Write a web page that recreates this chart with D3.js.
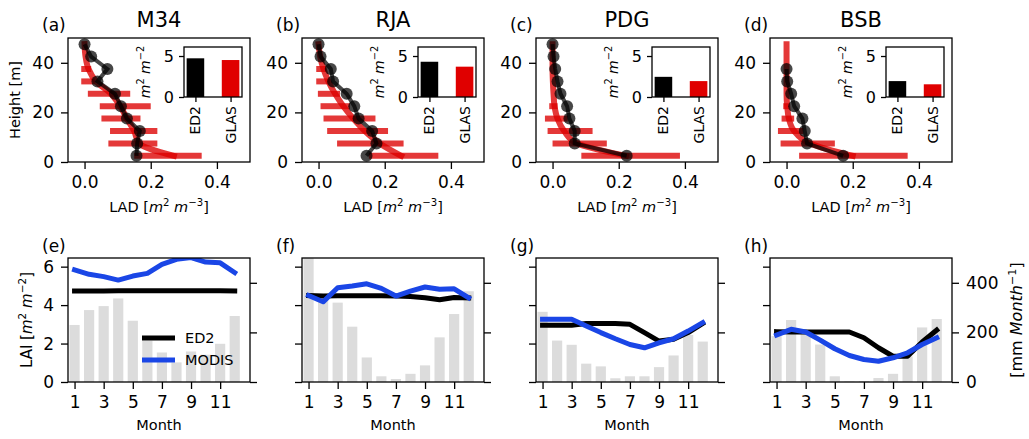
<!DOCTYPE html>
<html>
<head>
<meta charset="utf-8">
<script src="https://cdn.jsdelivr.net/npm/d3@7"></script>
<style>
body { margin: 0; background: #fff; }
svg text { font-family: "DejaVu Sans", sans-serif; fill: #000; white-space: pre; }
</style>
</head>
<body>
<div id="chart-area"></div>
<script>
// layout
const WIDTH = 1029, HEIGHT = 439
const COL_X = [68, 302, 536, 770]
const AX_W = 182, AX_H = 124
const TOP_Y = 38, BOT_Y = 258

// data
const sites = ["M34", "RJA", "PDG", "BSB"]
const topTags = ["(a)", "(b)", "(c)", "(d)"]
const botTags = ["(e)", "(f)", "(g)", "(h)"]

const heights = [2.5, 7.5, 12.5, 17.5, 22.5, 27.5, 32.5, 37.5, 42.5, 47.5]

// ED2 leaf area density, bottom to top
const ed2Lad = [
  [0.157, 0.159, 0.167, 0.128, 0.110, 0.092, 0.039, 0.069, 0.020, 0.000],
  [0.145, 0.175, 0.162, 0.121, 0.108, 0.085, 0.044, 0.037, 0.006, 0.000],
  [0.224, 0.067, 0.067, 0.051, 0.044, 0.024, 0.015, 0.008, 0.003, 0.000],
  [0.171, 0.062, 0.055, 0.048, 0.023, 0.014, 0.002, 0.000, null, null]
]
// GLAS profile curve
const glasLad = [
  [0.270, 0.165, 0.150, 0.128, 0.108, 0.080, 0.035, 0.012, 0.003, 0.000],
  [0.250, 0.185, 0.140, 0.105, 0.075, 0.050, 0.030, 0.015, 0.005, 0.000],
  [0.222, 0.074, 0.035, 0.015, 0.006, 0.003, 0.001, 0.000, 0.000, 0.000],
  [0.200, 0.070, 0.023, 0.007, 0.002, 0.000, 0.000, 0.000, 0.000, 0.000]
]
// GLAS range per layer (lo / hi)
const glasLo = [
  [0.150, 0.072, 0.077, 0.051, 0.046, 0.010, -0.010, -0.010],
  [0.152, 0.056, 0.026, 0.015, 0.006, -0.002, -0.007, -0.007],
  [0.087, 0.000, -0.015, -0.023, -0.010],
  [0.038, -0.018, -0.026, -0.015, -0.010]
]
const glasHi = [
  [0.354, 0.220, 0.220, 0.169, 0.200, 0.138, 0.031, 0.020],
  [0.362, 0.257, 0.210, 0.172, 0.095, 0.065, 0.034, 0.024],
  [0.385, 0.164, 0.121, 0.046, 0.015],
  [0.366, 0.146, 0.051, 0.023, 0.007]
]
// total LAI inset
const insetCats = ["ED2", "GLAS"]
const laiEd2Total = [4.72, 4.30, 2.46, 1.94]
const laiGlasTotal = [4.51, 3.70, 1.94, 1.55]

const months = [1, 2, 3, 4, 5, 6, 7, 8, 9, 10, 11, 12]
const ed2Lai = [
  [4.73, 4.73, 4.73, 4.74, 4.74, 4.74, 4.75, 4.75, 4.75, 4.74, 4.74, 4.73],
  [4.50, 4.47, 4.48, 4.48, 4.48, 4.48, 4.47, 4.45, 4.38, 4.28, 4.40, 4.37],
  [2.95, 2.95, 2.95, 3.04, 3.04, 3.04, 3.00, 2.57, 2.13, 2.22, 2.57, 3.05],
  [2.62, 2.60, 2.60, 2.60, 2.60, 2.60, 2.30, 1.78, 1.34, 1.34, 2.08, 2.70]
]
const modisLai = [
  [5.83, 5.60, 5.48, 5.30, 5.51, 5.65, 6.12, 6.38, 6.47, 6.24, 6.20, 5.69],
  [4.50, 4.17, 4.90, 4.99, 5.11, 4.87, 4.47, 4.73, 4.94, 4.82, 4.85, 4.38],
  [3.26, 3.26, 3.26, 2.91, 2.57, 2.25, 1.95, 1.78, 2.04, 2.25, 2.65, 3.09],
  [2.44, 2.74, 2.60, 2.18, 1.73, 1.38, 1.17, 1.08, 1.26, 1.52, 1.95, 2.30]
]
const precip = [
  [230, 290, 306, 337, 247, 167, 119, 79, 123, 110, 154, 266],
  [520, 340, 320, 223, 99, 23, 12, 33, 67, 180, 274, 366],
  [283, 167, 150, 74, 63, 15, 23, 23, 60, 107, 190, 163],
  [185, 250, 210, 151, 23, 2, 3, 16, 33, 103, 220, 254]
]

const ladTicks = [0, 0.2, 0.4]
const hTicks = [0, 20, 40]
const monthTicks = [1, 3, 5, 7, 9, 11]
const laiTicks = [0, 2, 4, 6]
const prTicks = [0, 200, 400]

const RED = "#dc0000"
const BLUE = "#1a46e6"
const TICK_FS = 17

const svg = d3.select("#chart-area").append("svg")
  .attr("width", WIDTH)
  .attr("height", HEIGHT)
const defs = svg.append("defs")

// text with italic / superscript parts
function rich(sel, parts, fs) {
  let raised = false
  parts.forEach(([t, k]) => {
    const ts = sel.append("tspan").text(t)
    if (k === "s") {
      ts.attr("font-size", fs * 0.7).attr("dy", -fs * 0.4)
      raised = true
    } else {
      if (raised) { ts.attr("dy", fs * 0.4); raised = false }
      if (k === "i") ts.attr("font-style", "italic")
    }
  })
}

function styleAxis(a, fs, noLabels) {
  a.attr("font-family", null).attr("font-size", null)
  a.select(".domain").remove()
  a.selectAll(".tick line").attr("stroke", "#000").attr("stroke-width", 1.3)
  a.selectAll(".tick text").attr("font-size", fs)
  if (noLabels) a.selectAll(".tick text").remove()
}

function frame(g, w, h) {
  g.append("rect").attr("width", w).attr("height", h)
    .attr("fill", "none").attr("stroke", "#000").attr("stroke-width", 1.3)
}

const intFmt = d3.format("d")

function drawProfile(i) {
  const g = svg.append("g").attr("transform", `translate(${COL_X[i]}, ${TOP_Y})`)
  const x = d3.scaleLinear().domain([-0.05, 0.5]).range([0, AX_W])
  const y = d3.scaleLinear().domain([0, 50]).range([AX_H, 0])

  defs.append("clipPath").attr("id", `clipT${i}`)
    .append("rect").attr("width", AX_W).attr("height", AX_H)
  const plot = g.append("g").attr("clip-path", `url(#clipT${i})`)

  // GLAS ranges
  const rng = glasLo[i].map((lo, k) => ({ lo: lo, hi: glasHi[i][k], h: heights[k] }))
  plot.selectAll("line.rng").data(rng).join("line")
    .attr("class", "rng")
    .attr("x1", d => x(d.lo)).attr("x2", d => x(d.hi))
    .attr("y1", d => y(d.h)).attr("y2", d => y(d.h))
    .attr("stroke", RED).attr("stroke-width", 6).attr("stroke-opacity", 0.78)

  // GLAS curve
  const curve = heights.map((h, k) => ({ h: h, v: glasLad[i][k] }))
  plot.append("path").datum(curve)
    .attr("d", d3.line().x(d => x(d.v)).y(d => y(d.h)).curve(d3.curveMonotoneY))
    .attr("fill", "none").attr("stroke", RED).attr("stroke-width", 6)
    .attr("stroke-opacity", 0.78).attr("stroke-linecap", "square")

  // ED2 profile
  const pts = heights.map((h, k) => ({ h: h, v: ed2Lad[i][k] })).filter(d => d.v != null)
  plot.append("path").datum(pts)
    .attr("d", d3.line().x(d => x(d.v)).y(d => y(d.h)))
    .attr("fill", "none").attr("stroke", "#000").attr("stroke-width", 4)
    .attr("stroke-opacity", 0.72)
  plot.selectAll("circle").data(pts).join("circle")
    .attr("cx", d => x(d.v)).attr("cy", d => y(d.h)).attr("r", 6)
    .attr("fill", "#000").attr("fill-opacity", 0.72)

  g.append("g").attr("transform", `translate(0, ${AX_H})`)
    .call(d3.axisBottom(x).tickValues(ladTicks).tickFormat(d3.format(".1f")).tickSize(7).tickPadding(7))
    .call(a => styleAxis(a, TICK_FS))
  g.append("g")
    .call(d3.axisLeft(y).tickValues(hTicks).tickFormat(intFmt).tickSize(7).tickPadding(7))
    .call(a => styleAxis(a, TICK_FS))
  frame(g, AX_W, AX_H)

  // inset of total LAI
  const inL = 116, inT = 9, inW = 58, inH = 50
  const ig = g.append("g").attr("transform", `translate(${inL}, ${inT})`)
  const xi = d3.scaleLinear().domain([-0.325, 1.325]).range([0, inW])
  const yi = d3.scaleLinear().domain([0, 6.1]).range([inH, 0])
  ig.append("rect").attr("width", inW).attr("height", inH).attr("fill", "#fff")
  const vals = [laiEd2Total[i], laiGlasTotal[i]]
  ig.selectAll("rect.bar").data(vals).join("rect")
    .attr("class", "bar")
    .attr("x", (d, k) => xi(k - 0.25)).attr("width", xi(0.25) - xi(-0.25))
    .attr("y", d => yi(d)).attr("height", d => yi(0) - yi(d))
    .attr("fill", (d, k) => k === 0 ? "#000" : "#e00000")
  ig.append("g")
    .call(d3.axisLeft(yi).tickValues([0, 5]).tickFormat(intFmt).tickSize(5).tickPadding(5))
    .call(a => styleAxis(a, 16))
  ig.append("g").attr("transform", `translate(0, ${inH})`)
    .call(d3.axisBottom(xi).tickValues([0, 1]).tickSize(5))
    .call(a => styleAxis(a, 14, true))
  insetCats.forEach((c, k) => {
    ig.append("text")
      .attr("transform", `translate(${xi(k)}, ${inH + 9}) rotate(-90)`)
      .attr("text-anchor", "end").attr("dy", "0.36em")
      .attr("font-size", 14).text(c)
  })
  frame(ig, inW, inH)
  const il = ig.append("text")
    .attr("transform", `translate(${-34}, ${inH / 2}) rotate(-90)`)
    .attr("text-anchor", "middle").attr("font-size", 14)
  rich(il, [["m", "i"], ["2", "s"], [" ", "n"], ["m", "i"], ["\u22122", "s"]], 14)

  // texts
  svg.append("text").attr("x", COL_X[i] + AX_W / 2).attr("y", 27)
    .attr("text-anchor", "middle").attr("font-size", 21).text(sites[i])
  svg.append("text").attr("x", COL_X[i] - 26).attr("y", 31)
    .attr("font-size", 17).text(topTags[i])
  const xl = svg.append("text").attr("x", COL_X[i] + AX_W / 2).attr("y", 212)
    .attr("text-anchor", "middle").attr("font-size", 14.5)
  rich(xl, [["LAD [", "n"], ["m", "i"], ["2", "s"], [" ", "n"], ["m", "i"], ["\u22123", "s"], ["]", "n"]], 14.5)
  if (i === 0) {
    svg.append("text").attr("transform", `translate(20, ${TOP_Y + AX_H / 2}) rotate(-90)`)
      .attr("text-anchor", "middle").attr("font-size", 14.5).text("Height [m]")
  }
}

function drawSeason(i) {
  const g = svg.append("g").attr("transform", `translate(${COL_X[i]}, ${BOT_Y})`)
  const x = d3.scaleLinear().domain([0.55, 13.05]).range([0, AX_W])
  const yL = d3.scaleLinear().domain([0, 6.45]).range([AX_H, 0])
  const yR = d3.scaleLinear().domain([0, 500]).range([AX_H, 0])

  defs.append("clipPath").attr("id", `clipB${i}`)
    .append("rect").attr("width", AX_W).attr("height", AX_H)
  const plot = g.append("g").attr("clip-path", `url(#clipB${i})`)

  plot.selectAll("rect.pr").data(months).join("rect")
    .attr("class", "pr")
    .attr("x", m => x(m - 0.35)).attr("width", x(0.35) - x(-0.35))
    .attr("y", (m, k) => yR(precip[i][k])).attr("height", (m, k) => yR(0) - yR(precip[i][k]))
    .attr("fill", "#dcdcdc")

  const line = d3.line().x((d, k) => x(months[k])).y(d => yL(d))
  plot.append("path").datum(ed2Lai[i]).attr("d", line)
    .attr("fill", "none").attr("stroke", "#000").attr("stroke-width", 5)
    .attr("stroke-linecap", "square").attr("stroke-linejoin", "round")
  plot.append("path").datum(modisLai[i]).attr("d", line)
    .attr("fill", "none").attr("stroke", BLUE).attr("stroke-width", 5)
    .attr("stroke-linecap", "square").attr("stroke-linejoin", "round")

  g.append("g").attr("transform", `translate(0, ${AX_H})`)
    .call(d3.axisBottom(x).tickValues(monthTicks).tickFormat(intFmt).tickSize(7).tickPadding(7))
    .call(a => styleAxis(a, TICK_FS))
  g.append("g")
    .call(d3.axisLeft(yL).tickValues(laiTicks).tickFormat(intFmt).tickSize(7).tickPadding(7))
    .call(a => styleAxis(a, TICK_FS, i !== 0))
  g.append("g").attr("transform", `translate(${AX_W}, 0)`)
    .call(d3.axisRight(yR).tickValues(prTicks).tickFormat(intFmt).tickSize(7).tickPadding(7))
    .call(a => styleAxis(a, TICK_FS, i !== 3))
  frame(g, AX_W, AX_H)

  svg.append("text").attr("x", COL_X[i] - 26).attr("y", 252)
    .attr("font-size", 17).text(botTags[i])
  svg.append("text").attr("x", COL_X[i] + AX_W / 2).attr("y", 430)
    .attr("text-anchor", "middle").attr("font-size", 14.5).text("Month")

  if (i === 0) {
    const yl = svg.append("text")
      .attr("transform", `translate(32, ${BOT_Y + AX_H / 2}) rotate(-90)`)
      .attr("text-anchor", "middle").attr("font-size", 15)
    rich(yl, [["LAI [", "n"], ["m", "i"], ["2", "s"], [" ", "n"], ["m", "i"], ["\u22122", "s"], ["]", "n"]], 15)

    // legend
    const leg = g.append("g").attr("transform", "translate(74, 80)")
    const items = [["ED2", "#000"], ["MODIS", BLUE]]
    items.forEach(([name, col], k) => {
      leg.append("line").attr("x1", 0).attr("x2", 33)
        .attr("y1", k * 22).attr("y2", k * 22)
        .attr("stroke", col).attr("stroke-width", 5)
      leg.append("text").attr("x", 43).attr("y", k * 22).attr("dy", "0.36em")
        .attr("font-size", 14.5).text(name)
    })
  }
  if (i === 3) {
    const rl = svg.append("text")
      .attr("transform", `translate(1022, ${BOT_Y + AX_H / 2}) rotate(-90)`)
      .attr("text-anchor", "middle").attr("font-size", 16)
    rich(rl, [["[mm ", "n"], ["Month", "i"], ["\u22121", "s"], ["]", "n"]], 16)
  }
}

sites.forEach((s, i) => {
  drawProfile(i)
  drawSeason(i)
})
</script>
</body>
</html>
